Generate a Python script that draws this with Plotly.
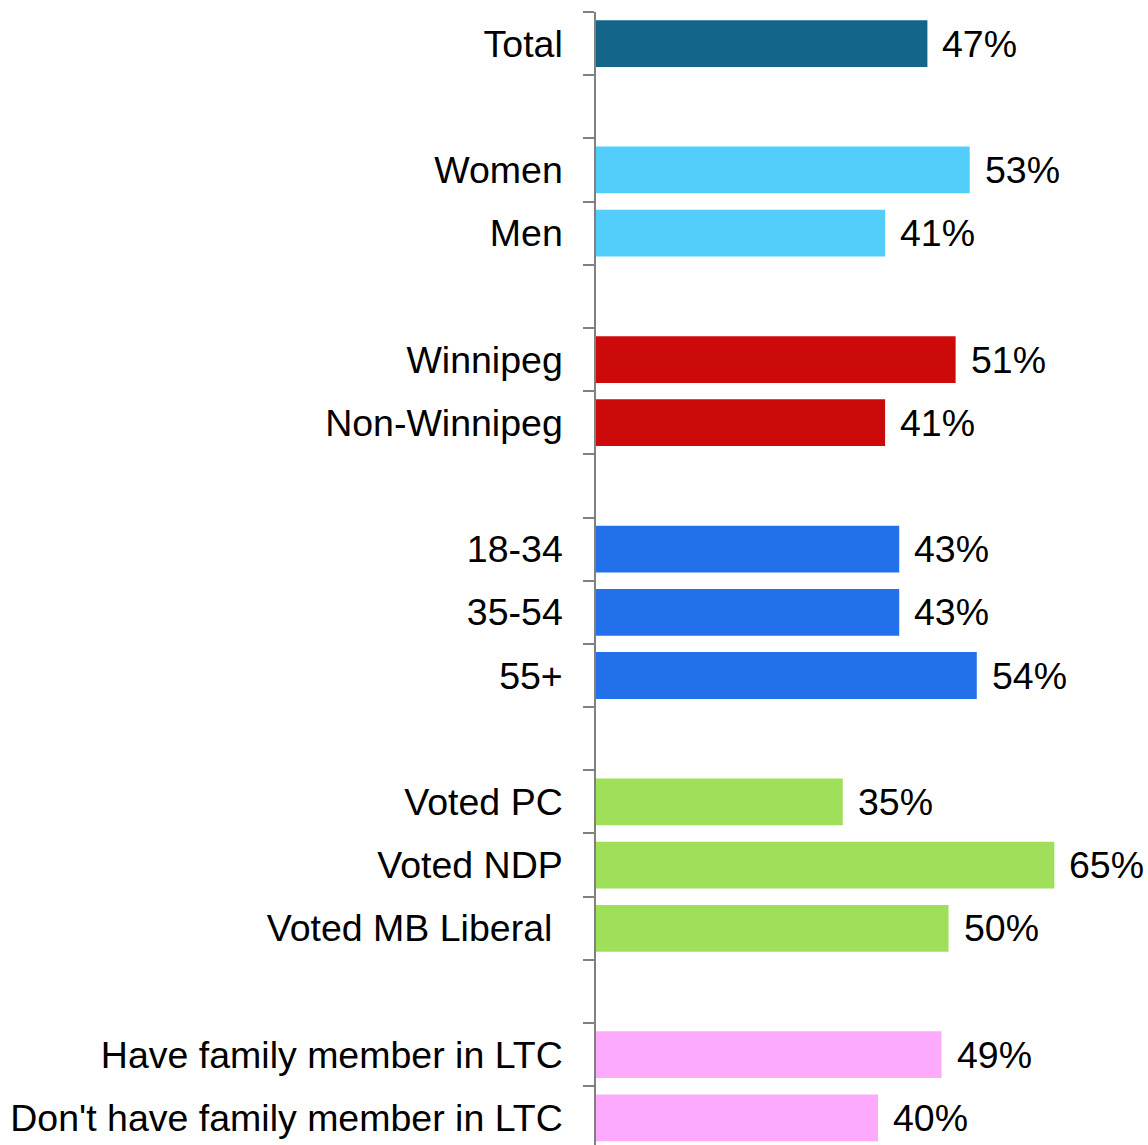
import plotly.graph_objects as go

categories = ["Total", " ", "Women", "Men", "  ", "Winnipeg", "Non-Winnipeg", "   ",
              "18-34", "35-54", "55+", "    ", "Voted PC", "Voted NDP", "Voted MB Liberal\u00a0",
              "     ", "Have family member in LTC", "Don't have family member in LTC"]
values = [47, None, 53, 41, None, 51, 41, None, 43, 43, 54, None, 35, 65, 50, None, 49, 40]
colors = ["#13658A", "#FFFFFF", "#53CEFB", "#53CEFB", "#FFFFFF", "#CC0A0A", "#CC0A0A", "#FFFFFF",
          "#2370EB", "#2370EB", "#2370EB", "#FFFFFF", "#A0DF5A", "#A0DF5A", "#A0DF5A",
          "#FFFFFF", "#FDAAFD", "#FDAAFD"]

FONT = "Liberation Sans, Arial, sans-serif"

fig = go.Figure()
fig.add_trace(go.Bar(
    y=categories, x=values, orientation="h",
    marker=dict(color=colors, line=dict(width=0)),
    width=0.74, hoverinfo="skip", cliponaxis=False,
))

for c, v in zip(categories, values):
    if v is None:
        continue
    fig.add_annotation(x=v, y=c, text=f"{v}%", showarrow=False,
                       xanchor="left", yanchor="middle", xshift=13,
                       font=dict(family=FONT, size=37.5, color="#000000"))

fig.update_layout(
    width=1148, height=1145,
    margin=dict(l=596, r=2, t=12, b=0, autoexpand=False),
    plot_bgcolor="#FFFFFF", paper_bgcolor="#FFFFFF",
    showlegend=False,
    font=dict(family=FONT, size=37.5, color="#000000"),
    bargap=0.26,
)
fig.update_xaxes(range=[0, 78], visible=False, showgrid=False, zeroline=False, automargin=False)
fig.update_yaxes(
    type="category", categoryorder="array", categoryarray=categories,
    range=[17.43, -0.5], automargin=False,
    showline=True, linecolor="#808080", linewidth=1.5,
    ticks="outside", tickson="boundaries", ticklen=11, tickcolor="#808080", tickwidth=1.5,
    ticklabelstandoff=24,
    showgrid=False, zeroline=False,
    tickfont=dict(family=FONT, size=37.5, color="#000000"),
)

fig.write_html(
    "out.html",
    config={"displayModeBar": False},
    post_script="document.body.style.margin='0';document.body.style.overflow='hidden';",
)
